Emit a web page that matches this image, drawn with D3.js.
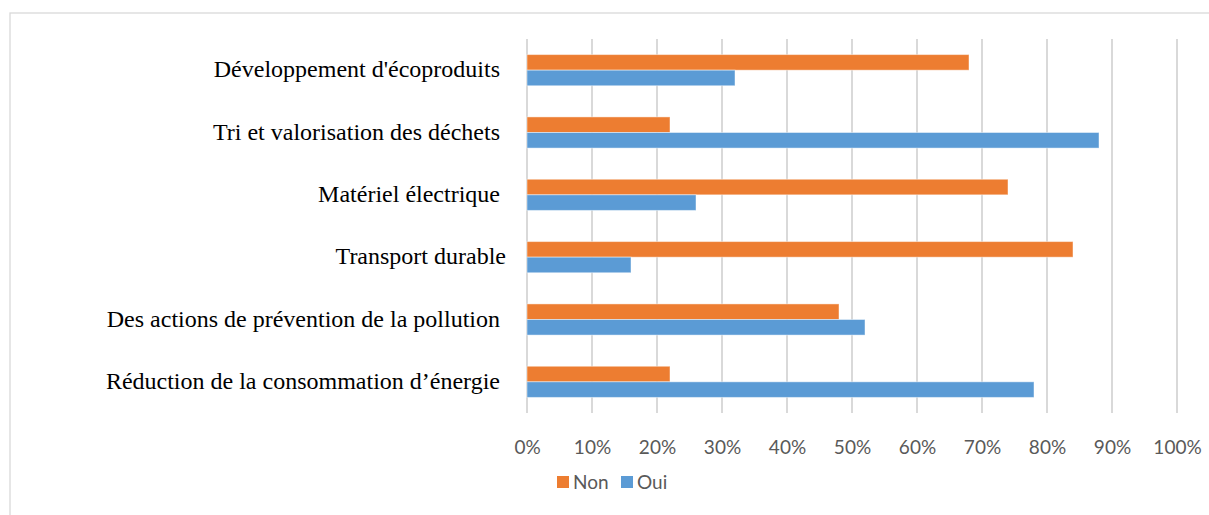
<!DOCTYPE html>
<html>
<head>
<meta charset="utf-8">
<script src="https://cdn.jsdelivr.net/npm/d3@7"></script>
<style>
  body { margin: 0; background: #fff; }
  .cat text { white-space: pre; }
</style>
</head>
<body>
<div class="chart"></div>
<script>
// categories, top to bottom
var categories = [
    "Développement d'écoproduits ",
    "Tri et valorisation des déchets ",
    "Matériel électrique ",
    "Transport durable",
    "Des actions de prévention de la pollution ",
    "Réduction de la consommation d’énergie "
];
var seriesNames = ["Non", "Oui"];
var nonValues = [0.68, 0.22, 0.74, 0.84, 0.48, 0.22];
var ouiValues = [0.32, 0.88, 0.26, 0.16, 0.52, 0.78];
var ticks = [0, 0.1, 0.2, 0.3, 0.4, 0.5, 0.6, 0.7, 0.8, 0.9, 1];

var colors = {Non: "#ED7D31", Oui: "#5B9BD5"};

var W = 1209, H = 515;
var plot = {left: 527, right: 1177, top: 39, bottom: 413};

var svg = d3.select(".chart").append("svg")
    .attr("width", W)
    .attr("height", H);

// chart frame
svg.append("rect")
    .attr("x", 10).attr("y", 13)
    .attr("width", W + 10).attr("height", H + 10)
    .attr("fill", "none")
    .attr("stroke", "#d9d9d9")
    .attr("stroke-width", 1.3);

var x = d3.scaleLinear().domain([0, 1]).range([plot.left, plot.right]);
var y = d3.scaleBand().domain(categories).range([plot.top, plot.bottom])
    .paddingInner(0.5).paddingOuter(0.25);
var sub = d3.scaleBand().domain(seriesNames).range([0, y.bandwidth()]);

// gridlines
svg.append("g").selectAll("line")
    .data(ticks)
    .enter()
    .append("line")
    .attr("x1", d => x(d)).attr("x2", d => x(d))
    .attr("y1", plot.top).attr("y2", plot.bottom)
    .attr("stroke", "#d9d9d9")
    .attr("stroke-width", 2);

// x axis labels
var xAxis = svg.append("g")
    .attr("transform", "translate(0," + (plot.bottom + 34) + ")")
    .call(d3.axisBottom(x).tickValues(ticks).tickFormat(d3.format(".0%")).tickSize(0).tickPadding(0));
xAxis.select(".domain").remove();
xAxis.selectAll("text")
    .attr("dy", "0.35em")
    .attr("font-family", "Lato, 'Open Sans', sans-serif")
    .attr("font-size", 19)
    .attr("fill", "#595959");

// bars
var rows = categories.map((c, i) => ({cat: c, Non: nonValues[i], Oui: ouiValues[i]}));

var groups = svg.append("g").selectAll("g")
    .data(rows)
    .enter()
    .append("g")
    .attr("transform", d => "translate(0," + y(d.cat) + ")");

groups.selectAll("rect")
    .data(d => seriesNames.map(s => ({key: s, value: d[s]})))
    .enter()
    .append("rect")
    .attr("x", x(0))
    .attr("y", d => sub(d.key))
    .attr("width", d => x(d.value) - x(0))
    .attr("height", sub.bandwidth())
    .attr("fill", d => colors[d.key])
    .attr("stroke", "#ffffff")
    .attr("stroke-opacity", 0.45)
    .attr("stroke-width", 1);

// category labels
svg.append("g").attr("class", "cat").selectAll("text")
    .data(categories)
    .enter()
    .append("text")
    .attr("x", plot.left - 21)
    .attr("y", d => y(d) + y.bandwidth() / 2)
    .attr("dy", "0.3em")
    .attr("text-anchor", "end")
    .attr("font-family", "'Liberation Serif', 'Times New Roman', serif")
    .attr("font-size", 24)
    .attr("fill", "#000")
    .text(d => d);

// legend
var legend = svg.append("g").attr("transform", "translate(557,482)");
var legendX = [0, 64];
seriesNames.forEach((s, i) => {
    legend.append("rect")
        .attr("x", legendX[i]).attr("y", -6)
        .attr("width", 12).attr("height", 12)
        .attr("fill", colors[s]);
    legend.append("text")
        .attr("x", legendX[i] + 16).attr("y", 0)
        .attr("dy", "0.35em")
        .attr("font-family", "Lato, 'Open Sans', sans-serif")
        .attr("font-size", 19)
        .attr("fill", "#595959")
        .text(s);
});
</script>
</body>
</html>
